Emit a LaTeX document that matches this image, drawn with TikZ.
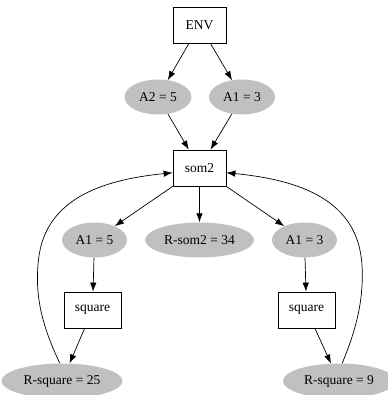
\documentclass[tikz,border=0pt]{standalone}
\usepackage{fontspec}
\setmainfont{Liberation Serif}
\usetikzlibrary{shapes.geometric,arrows.meta}
\definecolor{valgray}{RGB}{192,192,192}
\tikzset{
  every node/.style={font=\fontsize{13.5}{16}\selectfont, inner sep=0pt},
  procbox/.style={draw, line width=0.8pt, rectangle, minimum width=53pt, minimum height=36pt},
  sqbox/.style={draw, line width=0.8pt, rectangle, minimum width=57pt, minimum height=36pt},
  valnode/.style={ellipse, fill=valgray, minimum height=35pt},
  arr/.style={line width=0.7pt, -{Latex[length=9pt,width=6.5pt]}}
}
\begin{document}
\begin{tikzpicture}[x=1pt,y=-1pt]
\useasboundingbox (0,0) rectangle (387,395);
% process nodes
\node[procbox] (env) at (199.5,25) {ENV};
\node[procbox] (som) at (199.5,168) {som2};
\node[sqbox] (sql) at (92.5,310) {square};
\node[sqbox] (sqr) at (306.5,310) {square};
% value nodes
\node[valnode, minimum width=67pt] (a2) at (158,97) {A2 = 5};
\node[valnode, minimum width=66pt] (a1t) at (242,97) {A1 = 3};
\node[valnode, minimum width=65pt] (a1l) at (94.5,240) {A1 = 5};
\node[valnode, minimum width=109pt] (rsom) at (199.5,240) {R-som2 = 34};
\node[valnode, minimum width=65pt] (a1r) at (304.5,240) {A1 = 3};
\node[valnode, minimum width=121pt] (rs25) at (62,381) {R-square = 25};
\node[valnode, minimum width=112pt] (rs9) at (339,381) {R-square = 9};
% edges
\draw[arr] (env) -- (a2);
\draw[arr] (env) -- (a1t);
\draw[arr] (a2) -- (som);
\draw[arr] (a1t) -- (som);
\draw[arr] (som) -- (a1l);
\draw[arr] (som) -- (rsom);
\draw[arr] (som) -- (a1r);
\draw[arr] (a1l) -- (sql);
\draw[arr] (a1r) -- (sqr);
\draw[arr] (sql) -- (rs25);
\draw[arr] (sqr) -- (rs9);
% feedback edges
\draw[arr] (rs25.97) .. controls (44,330) and (35,300) .. (38,265)
  .. controls (42,200) and (100,180) .. (som.190);
\draw[arr] (rs9.80) .. controls (356,330) and (364,300) .. (362,265)
  .. controls (358,200) and (300,180) .. (som.-10);
\end{tikzpicture}
\end{document}
